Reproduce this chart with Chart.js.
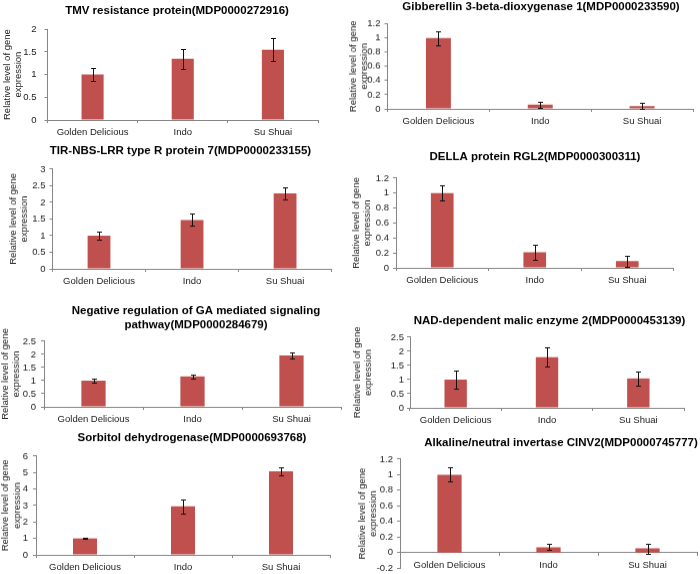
<!DOCTYPE html>
<html>
<head>
<meta charset="utf-8">
<script src="https://cdn.jsdelivr.net/npm/chart.js@4.4.0/dist/chart.umd.min.js"></script>
<style>
    html, body { margin: 0; padding: 0; background: #fff; }
    body { position: relative; width: 700px; height: 574px; overflow: hidden; }
    .panel { position: absolute; }
</style>
</head>
<body>
<script>
// data
var categories = ['Golden Delicious', 'Indo', 'Su Shuai'];

var tmvValues = [1.0, 1.35, 1.55];
var tmvErrors = [0.15, 0.22, 0.26];

var gibValues = [1.0, 0.06, 0.04];
var gibErrors = [0.10, 0.04, 0.04];

var tirValues = [1.0, 1.47, 2.27];
var tirErrors = [0.12, 0.18, 0.18];

var dellaValues = [1.0, 0.21, 0.09];
var dellaErrors = [0.10, 0.10, 0.07];

var negValues = [1.0, 1.16, 1.96];
var negErrors = [0.07, 0.07, 0.11];

var nadValues = [1.0, 1.79, 1.04];
var nadErrors = [0.32, 0.34, 0.24];

var sorbValues = [1.0, 2.95, 5.07];
var sorbErrors = [0.03, 0.42, 0.24];

var cinvValues = [1.0, 0.07, 0.055];
var cinvErrors = [0.09, 0.04, 0.065];

var yAxisTitle = ['Relative level of gene', 'expression'];

// y scale ranges: [min, max, step]
var tmvRange = [0, 2, 0.5];
var gibRange = [0, 1.2, 0.2];
var tirRange = [0, 3, 0.5];
var dellaRange = [0, 1.2, 0.2];
var negRange = [0, 2.5, 0.5];
var nadRange = [0, 2.5, 0.5];
var sorbRange = [0, 6, 1];
var cinvRange = [-0.2, 1.2, 0.2];

var FONT = '"Liberation Sans", Arial, sans-serif';
var BAR = '#C0504D';
var AXIS = '#868686';
var TEXT = '#222';
var TITLE_SIZE = 11.5;
var LABEL_SIZE = 9.5;

var panels = [
    { title: 'TMV resistance protein(MDP0000272916)', values: tmvValues, errors: tmvErrors, range: tmvRange,
      area: [47.5, 29, 318, 120], titleX: 177, titleY: 10.7, yTitleX: 7.3, tickPad: 8 },
    { title: 'Gibberellin 3-beta-dioxygenase 1(MDP0000233590)', values: gibValues, errors: gibErrors, range: gibRange,
      area: [387.5, 24, 693, 109], titleX: 541, titleY: 7.3, yTitleX: 353, tickPad: 4 },
    { title: 'TIR-NBS-LRR type R protein 7(MDP0000233155)', values: tirValues, errors: tirErrors, range: tirRange,
      area: [52.5, 169, 332, 269], titleX: 180.7, titleY: 151, yTitleX: 13.3, tickPad: 4 },
    { title: 'DELLA protein RGL2(MDP0000300311)', values: dellaValues, errors: dellaErrors, range: dellaRange,
      area: [396, 178, 673.5, 268], titleX: 535, titleY: 157, yTitleX: 356, tickPad: 4 },
    { title: ['Negative regulation of GA mediated signaling', 'pathway(MDP0000284679)'], values: negValues, errors: negErrors, range: negRange,
      area: [44, 341, 341, 407], titleX: 196, titleY: 311, yTitleX: 5, tickPad: 5 },
    { title: 'NAD-dependent malic enzyme 2(MDP0000453139)', values: nadValues, errors: nadErrors, range: nadRange,
      area: [410, 337, 684, 408], titleX: 549.5, titleY: 321, yTitleX: 357, tickPad: 3 },
    { title: 'Sorbitol dehydrogenase(MDP0000693768)', values: sorbValues, errors: sorbErrors, range: sorbRange,
      area: [36, 456, 330, 555], titleX: 192, titleY: 438, yTitleX: 5.7, tickPad: 5 },
    { title: 'Alkaline/neutral invertase CINV2(MDP0000745777)', values: cinvValues, errors: cinvErrors, range: cinvRange,
      area: [400, 459, 697, 570], titleX: 561, titleY: 443, yTitleX: 362, tickPad: 4 }
];

// draws the +/- error whiskers on top of each bar
var errorBarPlugin = {
    id: 'errorBars',
    afterDatasetsDraw: function(chart) {
        var ctx = chart.ctx;
        var yScale = chart.scales.y;
        var ds = chart.data.datasets[0];
        var meta = chart.getDatasetMeta(0);
        ctx.save();
        ctx.strokeStyle = '#111';
        ctx.lineWidth = 1;
        meta.data.forEach(function(bar, i) {
            var v = ds.data[i];
            var e = ds.errors[i];
            var x = Math.round(bar.x) + 0.5;
            var top = Math.round(yScale.getPixelForValue(v + e)) + 0.5;
            var bot = Math.round(yScale.getPixelForValue(v - e)) + 0.5;
            ctx.beginPath();
            ctx.moveTo(x, top); ctx.lineTo(x, bot);
            ctx.moveTo(x - 2.5, top); ctx.lineTo(x + 2.5, top);
            ctx.moveTo(x - 2.5, bot); ctx.lineTo(x + 2.5, bot);
            ctx.stroke();
        });
        ctx.restore();
    }
};

function makePanel(p) {
    var L = p.area[0], T = p.area[1], R = p.area[2], B = p.area[3];
    var titleLines = Array.isArray(p.title) ? p.title.length : 1;
    var titleLH = TITLE_SIZE * 1.2;
    var labelLH = LABEL_SIZE * 1.2;
    var hasNegative = p.range[0] < 0;

    // horizontal geometry: an empty right-hand axis keeps the title centred where it was
    var cx = (L < 350 ? 0 : 350) - 2;
    var padRight = 2;
    var spacer = 2 * p.titleX - R - cx;
    var width = R - cx + spacer + padRight;
    var yWidth = L - cx;
    var yTitlePad = p.yTitleX - cx - labelLH / 2;

    var cy = p.titleY - titleLH / 2 - 2;
    var titlePadBottom = T - (p.titleY + titleLH / 2 + (titleLines - 1) * titleLH);
    var xHeight = hasNegative ? 8 : 20;
    var height = B + xHeight - cy;

    var div = document.createElement('div');
    div.className = 'panel';
    div.style.left = cx + 'px';
    div.style.top = cy + 'px';
    var canvas = document.createElement('canvas');
    canvas.width = width;
    canvas.height = height;
    canvas.style.width = width + 'px';
    canvas.style.height = height + 'px';
    div.appendChild(canvas);
    document.body.appendChild(div);

    new Chart(canvas.getContext('2d'), {
        type: 'bar',
        data: {
            labels: categories,
            datasets: [{
                data: p.values,
                errors: p.errors,
                backgroundColor: BAR,
                borderWidth: 0,
                barPercentage: 0.245,
                categoryPercentage: 1
            }]
        },
        options: {
            responsive: false,
            animation: false,
            devicePixelRatio: 1,
            layout: { padding: { left: 0, right: padRight, top: 0, bottom: 0 } },
            plugins: {
                legend: { display: false },
                tooltip: { enabled: false },
                title: {
                    display: true,
                    text: p.title,
                    color: '#000',
                    font: { family: FONT, size: TITLE_SIZE, weight: 'bold' },
                    padding: { top: 2, bottom: titlePadBottom }
                }
            },
            scales: {
                x: {
                    position: hasNegative ? { y: 0 } : 'bottom',
                    grid: { display: true, drawOnChartArea: false, drawTicks: true, tickLength: 3, color: AXIS, offset: true },
                    border: { display: true, color: AXIS },
                    ticks: { color: TEXT, font: { family: FONT, size: LABEL_SIZE }, padding: 3.5, maxRotation: 0, autoSkip: false },
                    afterFit: function(scale) { scale.height = xHeight; }
                },
                y: {
                    min: p.range[0],
                    max: p.range[1],
                    ticks: {
                        stepSize: p.range[2],
                        autoSkip: false,
                        color: TEXT,
                        font: { family: FONT, size: LABEL_SIZE },
                        padding: p.tickPad,
                        callback: function(v) { return String(Math.round(v * 10) / 10); }
                    },
                    grid: { display: true, drawOnChartArea: false, drawTicks: true, tickLength: 3, color: AXIS },
                    border: { display: true, color: AXIS },
                    title: {
                        display: true,
                        text: yAxisTitle,
                        color: TEXT,
                        font: { family: FONT, size: LABEL_SIZE },
                        padding: { top: yTitlePad, bottom: 0 }
                    },
                    afterFit: function(scale) { scale.width = yWidth; }
                },
                spacer: {
                    type: 'linear',
                    position: 'right',
                    display: true,
                    grid: { display: false },
                    border: { display: false },
                    ticks: { display: false },
                    afterFit: function(scale) { scale.width = spacer; }
                }
            }
        },
        plugins: [errorBarPlugin]
    });
}

panels.forEach(makePanel);
</script>
</body>
</html>
